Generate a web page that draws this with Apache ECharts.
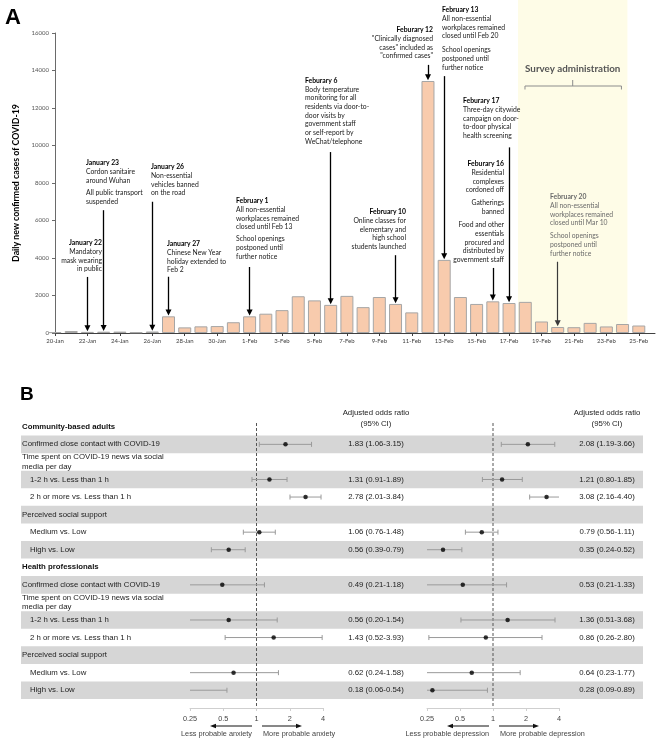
<!DOCTYPE html>
<html><head><meta charset="utf-8">
<script src="https://cdn.jsdelivr.net/npm/echarts@6/dist/echarts.min.js"></script>
<style>html,body{margin:0;padding:0;background:#fff}#c{width:660px;height:741px}</style>
</head><body><div id="c"></div>
<script>
// ---------- Panel A data ----------
const days = ['20-Jan','21-Jan','22-Jan','23-Jan','24-Jan','25-Jan','26-Jan','27-Jan','28-Jan','29-Jan','30-Jan','31-Jan',
  '1-Feb','2-Feb','3-Feb','4-Feb','5-Feb','6-Feb','7-Feb','8-Feb','9-Feb','10-Feb','11-Feb','12-Feb','13-Feb','14-Feb',
  '15-Feb','16-Feb','17-Feb','18-Feb','19-Feb','20-Feb','21-Feb','22-Feb','23-Feb','24-Feb','25-Feb','26-Feb'];
const dailyCases = [45,105,60,70,75,35,80,890,300,355,370,575,
  890,1030,1220,1960,1740,1500,1980,1380,1920,1550,1100,13440,3900,1920,
  1550,1690,1600,1660,615,320,310,540,350,480,400,null];
const arrowDays = ['22-Jan','23-Jan','26-Jan','27-Jan','1-Feb','6-Feb','10-Feb','12-Feb','13-Feb','16-Feb','17-Feb','20-Feb'];
const arrowTops = [2990,6550,7000,3000,3520,9650,4150,14300,13700,3470,9900,3800];
const surveyStart = '18-Feb';
const surveyEnd = '24-Feb';
const yAxisTitle = 'Daily new confirmed cases of COVID-19';
const surveyTitle = 'Survey administration';

const notes = {
  jan22: [['January 22','Mandatory','mask wearing','in public']],
  jan23: [['January 23','Cordon sanitaire','around Wuhan'],['All public transport','suspended']],
  jan26: [['January 26','Non-essential','vehicles banned','on the road']],
  jan27: [['January 27','Chinese New Year','holiday extended to','Feb 2']],
  feb1:  [['February 1','All non-essential','workplaces remained','closed until Feb 13'],['School openings','postponed until','further notice']],
  feb6:  [['Feburary 6','Body temperature','monitoring for all','residents via door-to-','door visits by','government staff','or self-report by','WeChat/telephone']],
  feb10: [['February 10','Online classes for','elementary and','high school','students launched']],
  feb12: [['Feburary 12','"Clinically diagnosed','cases" included as','"confirmed cases"']],
  feb13: [['February 13','All non-essential','workplaces remained','closed until Feb 20'],['School openings','postponed until','further notice']],
  feb17: [['Feburary 17','Three-day citywide','campaign on door-','to-door physical','health screening']],
  feb16: [['Feburary 16','Residential','complexes','cordoned off'],['Gatherings','banned'],['Food and other','essentials','procured and','distributed by','government staff']],
  feb20: [['February 20','All non-essential','workplaces remained','closed until Mar 10'],['School openings','postponed until','further notice']]
};

// ---------- Panel B data ----------
const rowLabels = [
  'Community-based adults',
  'Confirmed close contact with COVID-19',
  'Time spent on COVID-19 news via social\nmedia per day',
  '1-2 h vs. Less than 1 h',
  '2 h or more vs. Less than 1 h',
  'Perceived social support',
  'Medium vs. Low',
  'High vs. Low',
  'Health professionals',
  'Confirmed close contact with COVID-19',
  'Time spent on COVID-19 news via social\nmedia per day',
  '1-2 h vs. Less than 1 h',
  '2 h or more vs. Less than 1 h',
  'Perceived social support',
  'Medium vs. Low',
  'High vs. Low'];
const dataRows = [1,3,4,6,7,9,11,12,14,15];
const anxOR = [1.83,1.31,2.78,1.06,0.56,0.49,0.56,1.43,0.62,0.18];
const anxLo = [1.06,0.91,2.01,0.76,0.39,0.21,0.20,0.52,0.24,0.06];
const anxHi = [3.15,1.89,3.84,1.48,0.79,1.18,1.54,3.93,1.58,0.54];
const depOR = [2.08,1.21,3.08,0.79,0.35,0.53,1.36,0.86,0.64,0.28];
const depLo = [1.19,0.80,2.16,0.56,0.24,0.21,0.51,0.26,0.23,0.09];
const depHi = [3.66,1.85,4.40,1.11,0.52,1.33,3.68,2.80,1.77,0.89];
const orTicks = [0.25,0.5,1,2,4];
const colHeader = 'Adjusted odds ratio\n(95% CI)';
const anxCaptions = ['Less probable anxiety','More probable anxiety'];
const depCaptions = ['Less probable depression','More probable depression'];

// ---------- layout / styles ----------
const rowStyle = ['h','n','n','i','i','n','i','i','h','n','n','i','i','n','i','i'];
const noteLayout = {
  jan22: {x:102, tops:[238.6], align:'right'},
  jan23: {x:86, tops:[158.6,188.6], align:'left'},
  jan26: {x:151, tops:[162.6], align:'left'},
  jan27: {x:167, tops:[239.6], align:'left'},
  feb1:  {x:236, tops:[196.6,234.6], align:'left'},
  feb6:  {x:305, tops:[76.3], align:'left'},
  feb10: {x:406, tops:[207.6], align:'right'},
  feb12: {x:433, tops:[25.6], align:'right'},
  feb13: {x:442, tops:[5.6,45.6], align:'left'},
  feb17: {x:463, tops:[96.6], align:'left'},
  feb16: {x:504, tops:[159.6,198.6,220.6], align:'right'},
  feb20: {x:550, tops:[192.6,231.6], align:'left', color:'#6b6b6b'}
};
const FA = 'Lato, "Open Sans", sans-serif';
const FB = '"Liberation Sans", Arial, sans-serif';
const NOTE_FS = 6.8, NOTE_LH = 8.7;
const FSB = 7.8;
const AX_MIN = 0.25, AX_MAX = 4;

const rowKeys = rowLabels.map((_, i) => 'r' + i);
const anxText = rowLabels.map(() => '');
const depText = rowLabels.map(() => '');
const fmt = v => v.toFixed(2);
dataRows.forEach((r, k) => {
  anxText[r] = fmt(anxOR[k]) + ' (' + fmt(anxLo[k]) + '-' + fmt(anxHi[k]) + ')';
  depText[r] = fmt(depOR[k]) + ' (' + fmt(depLo[k]) + '-' + fmt(depHi[k]) + ')';
});

// graphic annotations
const graphics = [];
graphics.push({type:'text', x:5, y:7, style:{text:'A', font:'bold 22px ' + FB, fill:'#000'}});
graphics.push({type:'text', x:20, y:385, style:{text:'B', font:'bold 19px ' + FB, fill:'#000'}});
Object.keys(notes).forEach(key => {
  const L = noteLayout[key];
  const col = L.color || '#1a1a1a';
  notes[key].forEach((block, bi) => {
    let lines = block.slice();
    let top = L.tops[bi];
    if (bi === 0) {
      graphics.push({type:'text', x:L.x, y:top, z:50, style:{text:lines[0], align:L.align, verticalAlign:'top',
        fontFamily:FA, fontSize:NOTE_FS, fontWeight:'bold', lineHeight:NOTE_LH, fill: L.color ? col : '#000'}});
      lines = lines.slice(1);
      top += NOTE_LH;
    }
    graphics.push({type:'text', x:L.x, y:top, z:50, style:{text:lines.join('\n'), align:L.align, verticalAlign:'top',
      fontFamily:FA, fontSize:NOTE_FS, lineHeight:NOTE_LH, fill:col}});
  });
});
// column headers panel B
[376, 607].forEach(cx => {
  graphics.push({type:'text', x:cx, y:407, style:{text:colHeader, align:'center', verticalAlign:'top',
    fontFamily:FB, fontSize:FSB, lineHeight:11, fill:'#222'}});
});
// direction arrows under forest axes
function dirArrows(x1, caps) {
  const y = 726;
  const st = {stroke:'#111', lineWidth:1};
  graphics.push({type:'line', shape:{x1:x1-4, y1:y, x2:x1-42, y2:y}, style:st});
  graphics.push({type:'polygon', shape:{points:[[x1-46,y],[x1-40,y-2.3],[x1-40,y+2.3]]}, style:{fill:'#111'}});
  graphics.push({type:'line', shape:{x1:x1+6, y1:y, x2:x1+42, y2:y}, style:st});
  graphics.push({type:'polygon', shape:{points:[[x1+46,y],[x1+40,y-2.3],[x1+40,y+2.3]]}, style:{fill:'#111'}});
  graphics.push({type:'text', x:x1-4, y:733.5, style:{text:caps[0], align:'right', verticalAlign:'middle', fontFamily:FB, fontSize:7.3, fill:'#444'}});
  graphics.push({type:'text', x:x1+7, y:733.5, style:{text:caps[1], align:'left', verticalAlign:'middle', fontFamily:FB, fontSize:7.3, fill:'#444'}});
}
dirArrows(256, anxCaptions);
dirArrows(493, depCaptions);

// ---------- render helpers ----------
function surveyRender(params, api) {
  const bw = api.size([1, 0])[0];
  const x1 = api.coord([api.value(0), 0])[0] - bw * 0.45;
  const x2 = api.coord([api.value(1), 0])[0] + bw * 0.3;
  const yb = api.coord([0, 0])[1];
  const cx = (x1 + x2) / 2;
  const st = {stroke:'#8c8c8c', lineWidth:1, fill:null};
  return {type:'group', children:[
    {type:'rect', shape:{x:x1, y:0, width:x2 - x1, height:yb}, style:{fill:'#fefce7'}},
    {type:'polyline', shape:{points:[[x1+7,89.5],[x1+7,86],[x2-6,86],[x2-6,89.5]]}, style:st},
    {type:'line', shape:{x1:cx, y1:86, x2:cx, y2:80}, style:st},
    {type:'text', style:{text:surveyTitle, x:cx, y:69, align:'center', verticalAlign:'middle',
      fontFamily:FA, fontSize:9.8, fontWeight:'bold', fill:'#555'}}
  ]};
}
function ebRender(params, api) {
  const lo = api.value(0), hi = api.value(1), row = api.value(2);
  const a = Math.max(lo, AX_MIN), b = Math.min(hi, AX_MAX);
  const p1 = api.coord([a, row]), p2 = api.coord([b, row]);
  const st = {stroke:'#9a9a9a', lineWidth:1};
  const ch = [{type:'line', shape:{x1:p1[0], y1:p1[1], x2:p2[0], y2:p2[1]}, style:st}];
  if (lo >= AX_MIN) ch.push({type:'line', shape:{x1:p1[0], y1:p1[1]-2.5, x2:p1[0], y2:p1[1]+2.5}, style:st});
  if (hi <= AX_MAX) ch.push({type:'line', shape:{x1:p2[0], y1:p2[1]-2.5, x2:p2[0], y2:p2[1]+2.5}, style:st});
  return {type:'group', children:ch};
}
function refRender(params, api) {
  const x = api.coord([api.value(0), 0])[0];
  const cs = params.coordSys;
  return {type:'line', shape:{x1:x, y1:cs.y + 5, x2:x, y2:cs.y + cs.height + 9},
    style:{stroke:'#555', lineWidth:1, lineDash:[3, 2]}};
}

const arrowLines = arrowDays.map((d, i) => {
  const v = dailyCases[days.indexOf(d)];
  const item = [{coord:[d, arrowTops[i]]}, {coord:[d, v + 200]}];
  if (d === '20-Feb') item[0].lineStyle = {color:'#3a3a3a', width:1.2};
  return item;
});

const logAxis = (gi) => ({
  type:'log', logBase:2, gridIndex:gi, min:AX_MIN, max:AX_MAX, offset:9,
  axisLine:{show:true, lineStyle:{color:'#cfcfcf'}},
  axisTick:{show:true, length:3, lineStyle:{color:'#cfcfcf'}},
  axisLabel:{fontFamily:FB, fontSize:7.3, color:'#444', margin:7,
    formatter: v => String(Math.round(v * 100) / 100)},
  splitLine:{show:false}
});
const hiddenRows = (gi) => ({type:'category', gridIndex:gi, data:rowKeys, inverse:true, show:false});
const orAxis = (texts, margin) => ({
  type:'category', gridIndex:1, position:'right', data:rowKeys, inverse:true,
  axisLine:{show:false}, axisTick:{show:false},
  axisLabel:{inside:true, margin:margin, align:'center', interval:0, fontFamily:FB, fontSize:FSB, color:'#222',
    formatter:(v, i) => texts[i]}
});

const richRow = {
  h:{fontFamily:FB, fontSize:FSB, fontWeight:'bold', color:'#111'},
  n:{fontFamily:FB, fontSize:FSB, color:'#222', lineHeight:9.2},
  i:{fontFamily:FB, fontSize:FSB, color:'#222', padding:[0,0,0,8]}
};

const option = {
  animation:false,
  backgroundColor:'#fff',
  grid:[
    {left:55, top:33, width:600, height:300},
    {left:21, top:418, width:622, height:281},
    {left:190, top:418, width:133, height:281},
    {left:427, top:418, width:132, height:281}
  ],
  xAxis:[
    {type:'category', gridIndex:0, data:days, boundaryGap:false,
      axisLine:{lineStyle:{color:'#404040'}},
      axisTick:{interval:1, length:3, lineStyle:{color:'#404040'}},
      axisLabel:{interval:1, fontFamily:FA, fontSize:6, color:'#404040', margin:5}},
    {type:'value', gridIndex:1, min:0, max:1, show:false},
    logAxis(2), logAxis(3)
  ],
  yAxis:[
    {type:'value', gridIndex:0, min:0, max:16000, interval:2000,
      axisLine:{show:true, lineStyle:{color:'#6a6a6a'}},
      axisTick:{show:true, length:3, lineStyle:{color:'#6a6a6a'}},
      axisLabel:{fontFamily:FA, fontSize:6, color:'#555', margin:6, formatter: v => String(v)},
      splitLine:{show:false},
      name:yAxisTitle, nameLocation:'middle', nameGap:30,
      nameTextStyle:{fontFamily:FA, fontSize:8.8, fontWeight:'bold', color:'#000'}},
    {type:'category', gridIndex:1, data:rowKeys, inverse:true,
      axisLine:{show:false}, axisTick:{show:false},
      splitArea:{show:true, areaStyle:{color:['rgba(0,0,0,0)','#d6d6d6']}},
      axisLabel:{inside:true, margin:1, interval:0, align:'left',
        formatter:(v, i) => '{' + rowStyle[i] + '|' + rowLabels[i] + '}', rich:richRow}},
    orAxis(anxText, 267),
    orAxis(depText, 36),
    hiddenRows(2), hiddenRows(3)
  ],
  series:[
    {type:'custom', xAxisIndex:0, yAxisIndex:0, z:1, silent:true,
      data:[[days.indexOf(surveyStart), days.indexOf(surveyEnd)]], renderItem:surveyRender},
    {type:'bar', xAxisIndex:0, yAxisIndex:0, z:3, data:dailyCases, barWidth:13,
      itemStyle:{color:'#f8cbad', borderColor:'#a6a6a6', borderWidth:1},
      markLine:{silent:true, symbol:['none','triangle'], symbolSize:6, label:{show:false},
        lineStyle:{color:'#000', width:1.3, type:'solid'}, emphasis:{disabled:true}, data:arrowLines}},
    {type:'custom', xAxisIndex:2, yAxisIndex:4, z:2, silent:true, data:[[1, 0]], renderItem:refRender},
    {type:'custom', xAxisIndex:2, yAxisIndex:4, z:3, silent:true, encode:{x:[0,1], y:2},
      data:dataRows.map((r, k) => [anxLo[k], anxHi[k], r]), renderItem:ebRender},
    {type:'scatter', xAxisIndex:2, yAxisIndex:4, z:4, clip:true, symbolSize:4.5, itemStyle:{color:'#000'},
      data:dataRows.map((r, k) => [anxOR[k], r])},
    {type:'custom', xAxisIndex:3, yAxisIndex:5, z:2, silent:true, data:[[1, 0]], renderItem:refRender},
    {type:'custom', xAxisIndex:3, yAxisIndex:5, z:3, silent:true, encode:{x:[0,1], y:2},
      data:dataRows.map((r, k) => [depLo[k], depHi[k], r]), renderItem:ebRender},
    {type:'scatter', xAxisIndex:3, yAxisIndex:5, z:4, clip:true, symbolSize:4.5, itemStyle:{color:'#000'},
      data:dataRows.map((r, k) => [depOR[k], r])}
  ],
  graphic:{elements:graphics}
};
const chart = echarts.init(document.getElementById('c'));
chart.setOption(option);
</script></body></html>
